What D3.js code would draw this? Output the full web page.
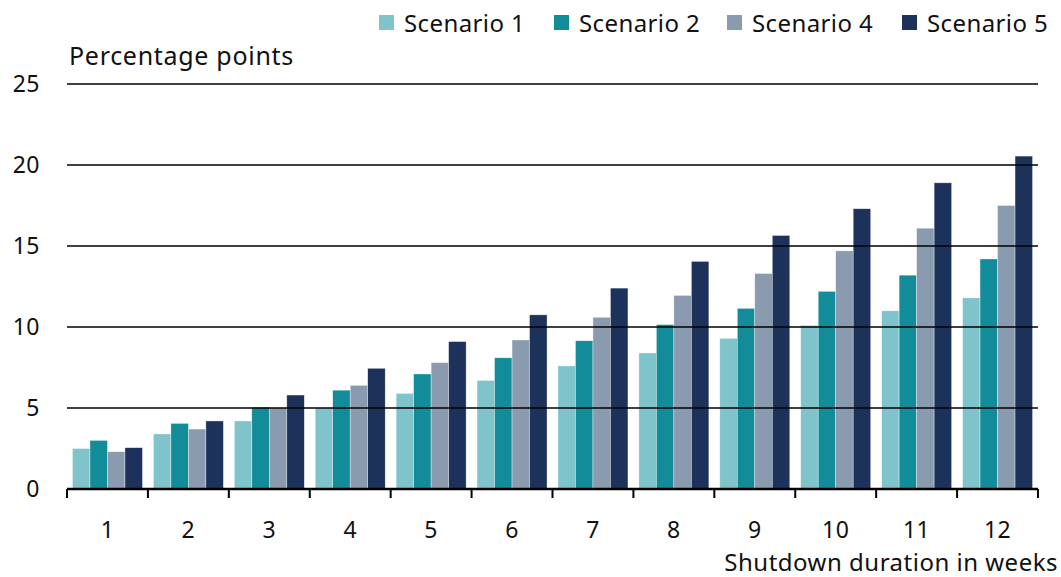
<!DOCTYPE html>
<html>
<head>
<meta charset="utf-8">
<script src="https://cdn.jsdelivr.net/npm/d3@7"></script>
<style>
  html, body { margin: 0; padding: 0; background: #fff; }
  svg { display: block; font-family: "Noto Sans", sans-serif; }
</style>
</head>
<body>
<svg id="chart" width="1061" height="577"></svg>
<script>
// ─── Data ────────────────────────────────────────────────────────────────────

const weeks = ['1', '2', '3', '4', '5', '6', '7', '8', '9', '10', '11', '12'];
const seriesNames = ['Scenario 1', 'Scenario 2', 'Scenario 4', 'Scenario 5'];
const seriesColors = ['#7fc4ca', '#128c98', '#8a9aaf', '#1c325a'];

const scenario1 = [2.5, 3.4, 4.2, 5.0, 5.9, 6.7, 7.6, 8.4, 9.3, 10.1, 11.0, 11.8];
const scenario2 = [3.0, 4.05, 5.05, 6.1, 7.1, 8.1, 9.15, 10.15, 11.15, 12.2, 13.2, 14.2];
const scenario4 = [2.3, 3.7, 5.0, 6.4, 7.8, 9.2, 10.6, 11.95, 13.3, 14.7, 16.1, 17.5];
const scenario5 = [2.55, 4.2, 5.8, 7.45, 9.1, 10.75, 12.4, 14.05, 15.65, 17.3, 18.9, 20.55];

const yTicks = [0, 5, 10, 15, 20, 25];

const allSeries = [scenario1, scenario2, scenario4, scenario5];

// ─── Setup ───────────────────────────────────────────────────────────────────

const svg = d3.select('#chart');
const M = { left: 67, right: 1038, top: 84, bottom: 489 };
const FS = 24;        // label font size
const LS = '0.5px';   // letter spacing, widens Noto towards the original face

const x = d3.scaleBand()
  .domain(weeks)
  .range([M.left, M.right])
  .paddingInner(0.135)
  .paddingOuter(0.0675);

const xs = d3.scaleBand()
  .domain(seriesNames)
  .range([0, x.bandwidth()]);

const y = d3.scaleLinear()
  .domain([0, 25])
  .range([M.bottom, M.top]);

// ─── Bars ────────────────────────────────────────────────────────────────────

const groups = svg.append('g').selectAll('g')
  .data(weeks)
  .join('g')
  .attr('transform', d => `translate(${x(d)},0)`);

groups.selectAll('rect')
  .data((d, i) => allSeries.map((s, k) => ({ name: seriesNames[k], v: s[i], k })))
  .join('rect')
  .attr('x', d => xs(d.name))
  .attr('width', xs.bandwidth())
  .attr('y', d => y(d.v))
  .attr('height', d => y(0) - y(d.v))
  .attr('fill', d => seriesColors[d.k])
  .attr('stroke', 'rgba(255,255,255,0.6)')
  .attr('stroke-width', 0.6);

// ─── Gridlines (drawn over the bars) ─────────────────────────────────────────

svg.append('g').selectAll('line')
  .data(yTicks.filter(t => t > 0))
  .join('line')
  .attr('x1', M.left).attr('x2', M.right)
  .attr('y1', d => y(d)).attr('y2', d => y(d))
  .attr('stroke', '#000')
  .attr('stroke-width', 1.7);

// ─── Y axis labels ───────────────────────────────────────────────────────────

svg.append('g').selectAll('text')
  .data(yTicks)
  .join('text')
  .attr('x', 40)
  .attr('y', d => y(d))
  .attr('dy', '0.36em')
  .attr('text-anchor', 'end')
  .attr('font-size', 23)
  .attr('letter-spacing', LS)
  .attr('fill', '#111')
  .text(d => d);

svg.append('text')
  .attr('x', 69).attr('y', 65)
  .attr('font-size', 25)
  .attr('letter-spacing', '0.7px')
  .attr('fill', '#111')
  .text('Percentage points');

// ─── X axis ──────────────────────────────────────────────────────────────────

const halfGap = x.step() * x.paddingInner() / 2;
const bounds = weeks.map(w => x(w) - halfGap).concat([x(weeks[weeks.length - 1]) + x.bandwidth() + halfGap]);

svg.append('line')
  .attr('x1', M.left).attr('x2', M.right)
  .attr('y1', y(0)).attr('y2', y(0))
  .attr('stroke', '#000')
  .attr('stroke-width', 2.5);

svg.append('g').selectAll('line')
  .data(bounds)
  .join('line')
  .attr('x1', d => d).attr('x2', d => d)
  .attr('y1', y(0)).attr('y2', y(0) + 9)
  .attr('stroke', '#000')
  .attr('stroke-width', 2);

svg.append('g').selectAll('text')
  .data(weeks)
  .join('text')
  .attr('x', d => x(d) + x.bandwidth() / 2)
  .attr('y', 538)
  .attr('text-anchor', 'middle')
  .attr('font-size', 23)
  .attr('letter-spacing', LS)
  .attr('fill', '#111')
  .text(d => d);

svg.append('text')
  .attr('x', 1058).attr('y', 571)
  .attr('text-anchor', 'end')
  .attr('font-size', FS)
  .attr('letter-spacing', LS)
  .attr('fill', '#111')
  .text('Shutdown duration in weeks');

// ─── Legend ──────────────────────────────────────────────────────────────────

const legendX = [379, 554, 727, 902];

const leg = svg.append('g').selectAll('g')
  .data(seriesNames)
  .join('g')
  .attr('transform', (d, i) => `translate(${legendX[i]},0)`);

leg.append('rect')
  .attr('x', 0).attr('y', 15)
  .attr('width', 15).attr('height', 15)
  .attr('fill', (d, i) => seriesColors[i]);

leg.append('text')
  .attr('x', 25).attr('y', 32)
  .attr('font-size', FS)
  .attr('letter-spacing', '0.4px')
  .attr('fill', '#111')
  .text(d => d);
</script>
</body>
</html>
